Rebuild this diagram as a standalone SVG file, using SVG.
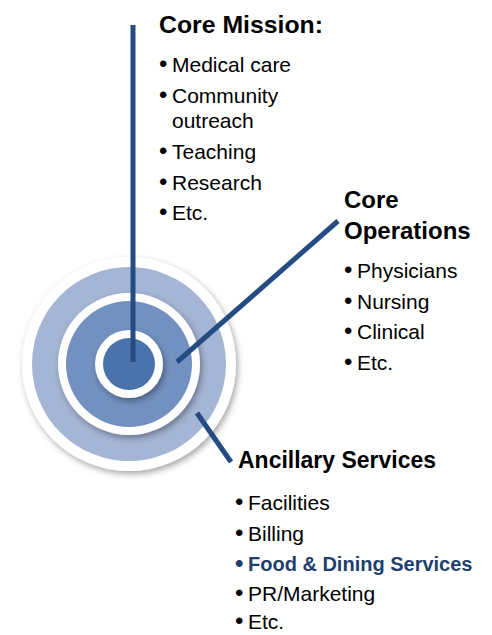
<svg xmlns="http://www.w3.org/2000/svg" width="492" height="635" viewBox="0 0 492 635">
<defs>
<filter id="sh" x="-20%" y="-20%" width="150%" height="150%">
<feDropShadow dx="2" dy="3" stdDeviation="3" flood-color="#000" flood-opacity="0.35"/>
</filter>
<style>
.t{font-family:"Liberation Sans",Arial,sans-serif;fill:#000}
.h{font-size:24px;font-weight:bold}
.b{font-size:21px}
.f{font-size:20px;font-weight:bold;fill:#1F3F6E}
.bu{font-size:24px}
.ln{stroke:#244C82;stroke-width:5;fill:none}
.w{fill:#fff;filter:url(#sh)}
</style>
</defs>
<rect width="492" height="635" fill="#fff"/>
<g id="target">
<circle class="w" cx="129" cy="364" r="107"/>
<circle cx="129" cy="364" r="97" fill="#A4B5D5"/>
<circle class="w" cx="129" cy="364" r="71"/>
<circle cx="129" cy="364" r="63" fill="#7291C0"/>
<circle class="w" cx="129" cy="364" r="34"/>
<circle cx="129" cy="364" r="26" fill="#4A73AC"/>
</g>
<g id="connectors">
<line class="ln" x1="133" y1="25" x2="133" y2="362"/>
<line class="ln" x1="177" y1="362" x2="338" y2="221"/>
<line class="ln" x1="197" y1="413" x2="231" y2="462"/>
</g>
<g id="core-mission">
<text class="t h" x="159" y="33" textLength="164" lengthAdjust="spacingAndGlyphs">Core Mission:</text>
<text class="t b" x="159" y="72"><tspan class="bu">•</tspan><tspan x="172">Medical care</tspan></text>
<text class="t b" x="159" y="103"><tspan class="bu">•</tspan><tspan x="172">Community</tspan></text>
<text class="t b" x="172" y="128">outreach</text>
<text class="t b" x="159" y="159"><tspan class="bu">•</tspan><tspan x="172">Teaching</tspan></text>
<text class="t b" x="159" y="190"><tspan class="bu">•</tspan><tspan x="172">Research</tspan></text>
<text class="t b" x="159" y="220"><tspan class="bu">•</tspan><tspan x="172">Etc.</tspan></text>
</g>
<g id="core-operations">
<text class="t h" x="344" y="208">Core</text>
<text class="t h" x="344" y="239">Operations</text>
<text class="t b" x="344" y="278"><tspan class="bu">•</tspan><tspan x="357">Physicians</tspan></text>
<text class="t b" x="344" y="309"><tspan class="bu">•</tspan><tspan x="357">Nursing</tspan></text>
<text class="t b" x="344" y="339"><tspan class="bu">•</tspan><tspan x="357">Clinical</tspan></text>
<text class="t b" x="344" y="370"><tspan class="bu">•</tspan><tspan x="357">Etc.</tspan></text>
</g>
<g id="ancillary-services">
<text class="t h" x="238" y="468" textLength="198" lengthAdjust="spacingAndGlyphs">Ancillary Services</text>
<text class="t b" x="235" y="510"><tspan class="bu">•</tspan><tspan x="248">Facilities</tspan></text>
<text class="t b" x="235" y="541"><tspan class="bu">•</tspan><tspan x="248">Billing</tspan></text>
<text class="t f" x="235" y="571"><tspan class="bu">•</tspan><tspan x="248">Food &amp; Dining Services</tspan></text>
<text class="t b" x="235" y="601"><tspan class="bu">•</tspan><tspan x="248">PR/Marketing</tspan></text>
<text class="t b" x="235" y="629"><tspan class="bu">•</tspan><tspan x="248">Etc.</tspan></text>
</g>
</svg>
